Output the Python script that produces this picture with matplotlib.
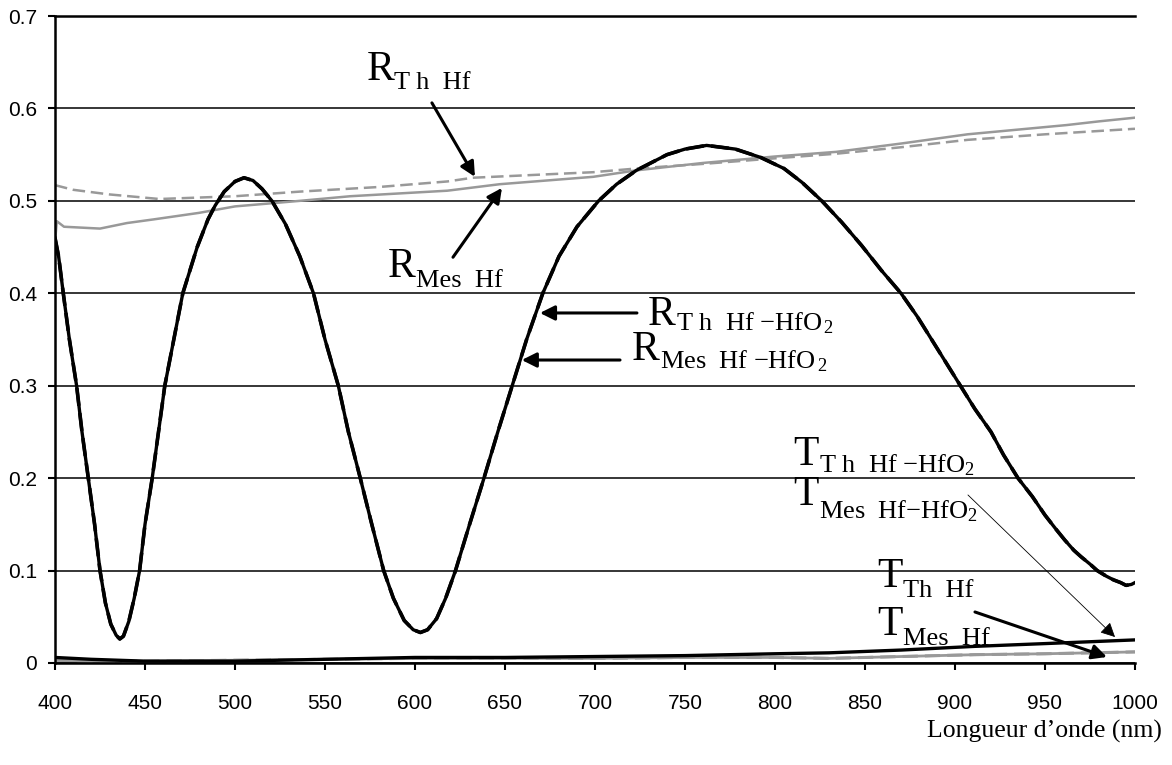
import matplotlib
matplotlib.use('Agg')
import matplotlib.pyplot as plt

plt.rcParams['font.family'] = ['Liberation Sans', 'DejaVu Sans']
plt.rcParams['mathtext.fontset'] = 'custom'
plt.rcParams['mathtext.rm'] = 'Liberation Serif'
plt.rcParams['mathtext.it'] = 'Liberation Serif:italic'

# R Hf-HfO2 (Th and Mes sit on top of each other)
wl_r2 = [400, 402, 404.6, 408, 412, 415, 418.5, 422, 425, 428, 431, 434, 436, 438, 441, 444, 447,
         450, 454, 457.5, 461, 466, 471, 479, 485, 489, 494, 500, 505, 510, 515, 520.5, 528, 536,
         543.6, 550, 557.4, 563, 569.6, 576, 582.6, 588, 594, 599, 603, 607, 612, 617, 622.5, 630,
         638, 646, 654, 662, 671, 680, 690, 702, 712, 723, 740, 750, 762, 778, 792, 805, 815, 826,
         837, 848, 859, 870, 879, 887, 895, 903, 911, 920, 927, 935, 943, 950, 956, 961, 966, 970,
         975, 979, 984, 988, 992, 995, 998, 1000]
r_mes_hfo2 = [0.46, 0.44, 0.40, 0.35, 0.30, 0.25, 0.20, 0.15, 0.10, 0.065, 0.042, 0.030, 0.026,
              0.029, 0.045, 0.07, 0.10, 0.15, 0.20, 0.25, 0.30, 0.35, 0.40, 0.45, 0.48, 0.495, 0.51,
              0.521, 0.525, 0.522, 0.513, 0.50, 0.475, 0.44, 0.40, 0.35, 0.30, 0.25, 0.20, 0.15,
              0.10, 0.07, 0.046, 0.036, 0.033, 0.036, 0.048, 0.07, 0.10, 0.148, 0.198, 0.25, 0.30,
              0.35, 0.40, 0.44, 0.472, 0.50, 0.518, 0.533, 0.55, 0.556, 0.56, 0.556, 0.547, 0.535,
              0.52, 0.50, 0.477, 0.452, 0.425, 0.40, 0.375, 0.35, 0.325, 0.30, 0.275, 0.25, 0.225,
              0.20, 0.18, 0.16, 0.145, 0.133, 0.122, 0.115, 0.107, 0.10, 0.094, 0.09, 0.087, 0.084,
              0.085, 0.087]
r_th_hfo2 = r_mes_hfo2

# R Hf
wl_rmes = [400, 401, 405, 425, 440, 455, 480, 500, 536, 564, 600, 618, 647, 699, 723, 760, 800,
           834, 870, 907, 940, 962, 980, 1000]
r_mes_hf = [0.455, 0.478, 0.472, 0.470, 0.476, 0.480, 0.487, 0.494, 0.500, 0.505, 0.509, 0.511,
            0.518, 0.526, 0.533, 0.541, 0.548, 0.553, 0.562, 0.572, 0.578, 0.582, 0.586, 0.590]
wl_rth = [400, 410, 430, 458, 500, 536, 580, 618, 632, 699, 723, 760, 800, 834, 870, 907, 950, 1000]
r_th_hf = [0.517, 0.512, 0.507, 0.502, 0.505, 0.510, 0.515, 0.521, 0.525, 0.531, 0.535, 0.540,
           0.546, 0.551, 0.558, 0.566, 0.572, 0.578]

# Transmissions
wl_t = [400, 420, 450, 500, 550, 600, 650, 700, 750, 800, 830, 870, 911, 950, 1000]
t_hfo2 = [0.006, 0.004, 0.002, 0.002, 0.004, 0.006, 0.006, 0.007, 0.008, 0.010, 0.011, 0.014,
          0.018, 0.021, 0.025]
t_hf = [0.003, 0.002, 0.002, 0.003, 0.004, 0.005, 0.005, 0.005, 0.006, 0.006, 0.005, 0.007,
        0.009, 0.010, 0.012]

xticks = list(range(400, 1001, 50))
yticks = [0, 0.1, 0.2, 0.3, 0.4, 0.5, 0.6, 0.7]
ylabels = ['0', '0.1', '0.2', '0.3', '0.4', '0.5', '0.6', '0.7']

grey = '#999999'
serif = 'Liberation Serif'
fig = plt.figure(figsize=(11.72, 7.65), dpi=100)
ax = fig.add_axes([55 / 1172, 102 / 765, 1080 / 1172, 647 / 765])

ax.plot(wl_rth, r_th_hf, color=grey, lw=1.8, dashes=(5, 2.3))
ax.plot(wl_rmes, r_mes_hf, color=grey, lw=1.8)
ax.plot(wl_t, t_hf, color=grey, lw=2.2, dashes=(5, 2.3))
ax.plot(wl_t, t_hf, color=grey, lw=2.0)
ax.plot(wl_r2, r_th_hfo2, color='black', lw=2.6, dashes=(5, 2))
ax.plot(wl_r2, r_mes_hfo2, color='black', lw=2.4)
ax.plot(wl_t, t_hfo2, color='black', lw=2.4)

ax.set_xlim(400, 1000)
ax.set_ylim(0, 0.7)
ax.set_xticks(xticks)
ax.set_yticks(yticks)
ax.set_yticklabels(ylabels)
ax.tick_params(axis='both', direction='out', length=5, width=1.5, labelsize=15)
ax.tick_params(axis='x', pad=17)
ax.tick_params(axis='y', pad=8)
ax.set_axisbelow(True)
ax.yaxis.grid(True, color='black', lw=1.1)
ax.spines['right'].set_visible(False)
for s in ['left', 'bottom', 'top']:
    ax.spines[s].set_linewidth(1.8)


def label(x, y, main, sub, drop=7):
    # big letter, then a smaller subscript right after it
    ax.text(x, y, main, fontsize=30, family=serif, ha='left', va='baseline')
    w = 20 if main == 'R' else 18.5
    ax.annotate(sub, xy=(x, y), xytext=(w, -drop), textcoords='offset points',
                fontsize=19, family=serif, ha='left', va='baseline')


arr = dict(arrowstyle='-|>', color='black', lw=2.2, mutation_scale=22, shrinkA=0, shrinkB=0)
thin = dict(arrowstyle='-|>', color='black', lw=0.6, mutation_scale=22, shrinkA=0, shrinkB=0)

label(573, 0.631, 'R', 'T h  Hf')
ax.annotate('', xy=(633.3, 0.526), xytext=(609.4, 0.606), arrowprops=arr)
label(585, 0.4176, 'R', 'Mes  Hf')
ax.annotate('', xy=(648.3, 0.514), xytext=(621.1, 0.439), arrowprops=arr)

label(729.4, 0.366, 'R', 'T h  Hf \u2212HfO$_{\\,2}$', drop=4)
ax.annotate('', xy=(669.4, 0.3787), xytext=(723.3, 0.3787), arrowprops=arr)
label(720.6, 0.328, 'R', 'Mes  Hf \u2212HfO$_{\\,2}$', drop=6)
ax.annotate('', xy=(659.3, 0.3278), xytext=(713.9, 0.3278), arrowprops=arr)

label(810, 0.214, 'T', 'T h  Hf \u2212HfO$_{2}$', drop=5)
label(810, 0.171, 'T', 'Mes  Hf\u2212HfO$_{2}$', drop=10)
ax.annotate('', xy=(988.9, 0.0281), xytext=(907.2, 0.1818), arrowprops=thin)

label(856.7, 0.0822, 'T', 'Th  Hf')
label(856.7, 0.0303, 'T', 'Mes  Hf')
ax.annotate('', xy=(984.4, 0.0065), xytext=(911.1, 0.0552), arrowprops=arr)

fig.text(1162 / 1172, 27 / 765, 'Longueur d\u2019onde (nm)', family=serif,
         fontsize=18.5, ha='right', va='baseline')

fig.savefig('out.png', dpi=100)
